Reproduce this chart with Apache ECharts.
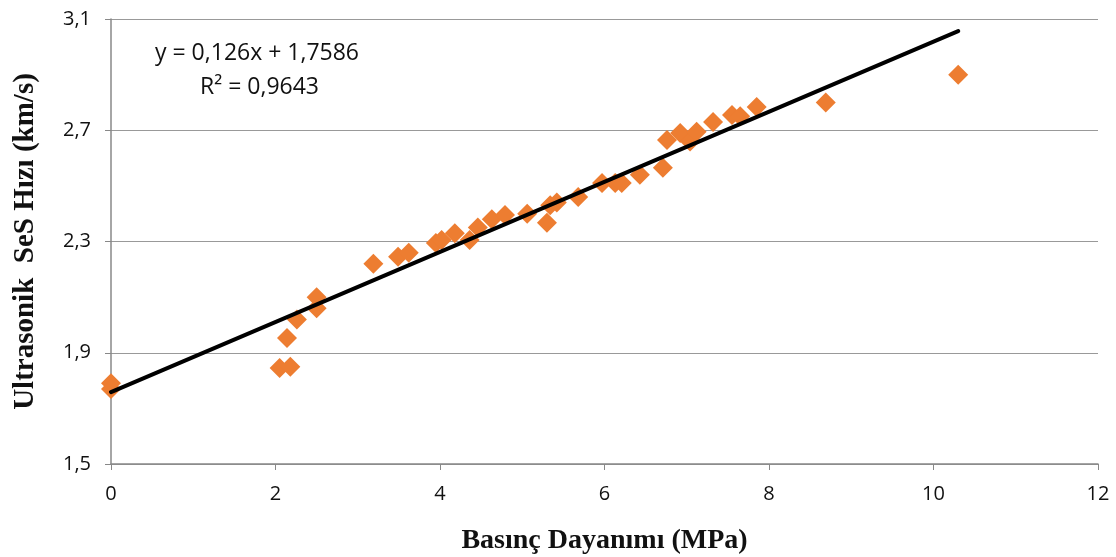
<!DOCTYPE html>
<html>
<head>
<meta charset="utf-8">
<script src="https://cdn.jsdelivr.net/npm/echarts@6/dist/echarts.min.js"></script>
<style>
  html, body { margin: 0; padding: 0; background: #fff; }
  #main { width: 1116px; height: 557px; }
</style>
</head>
<body>
<div id="main"></div>
<script>
// ölçüm noktaları: basınç dayanımı (MPa) ve ses hızı (km/s)
const dayanim = [0, 0, 2.05, 2.18, 2.14, 2.26, 2.5, 2.5, 3.19, 3.49, 3.62, 3.95, 4.02, 4.18, 4.36, 4.46,
  4.63, 4.79, 5.06, 5.3, 5.34, 5.42, 5.68, 5.97, 6.13, 6.21, 6.43, 6.71, 6.76, 6.92, 7.04, 7.12,
  7.32, 7.55, 7.65, 7.85, 8.69, 10.3];
const sesHizi = [1.79, 1.77, 1.845, 1.85, 1.953, 2.02, 2.06, 2.10, 2.22, 2.245, 2.26, 2.295, 2.305, 2.33, 2.305, 2.35,
  2.38, 2.395, 2.40, 2.367, 2.43, 2.44, 2.46, 2.51, 2.51, 2.51, 2.54, 2.565, 2.665, 2.69, 2.66, 2.695,
  2.73, 2.755, 2.75, 2.784, 2.80, 2.90];
// doğrusal eğilim çizgisi
const egim = 0.126;
const kesisim = 1.7586;
const trendX = [0, 10.3];

const points = dayanim.map((x, i) => [x, sesHizi[i]]);
const trend = trendX.map(x => [x, egim * x + kesisim]);

const comma = v => String(v).replace('.', ',');

const chart = echarts.init(document.getElementById('main'));
chart.setOption({
  animation: false,
  grid: { left: 111, right: 18, top: 19, bottom: 93, outerBoundsMode: 'none' },
  xAxis: {
    type: 'value',
    min: 0, max: 12, interval: 2,
    name: 'Basınç Dayanımı (MPa)',
    nameLocation: 'middle',
    nameGap: 63,
    nameTextStyle: { fontFamily: 'Liberation Serif', fontWeight: 'bold', fontSize: 28, color: '#111' },
    axisLine: { lineStyle: { color: '#888', width: 1.5 } },
    axisTick: { show: true, length: 6, lineStyle: { color: '#888' } },
    axisLabel: { fontFamily: 'Open Sans', fontSize: 20, color: '#111', margin: 20 },
    splitLine: { show: false }
  },
  yAxis: {
    type: 'value',
    min: 1.5, max: 3.1, interval: 0.4,
    name: 'Ultrasonik  SeS Hızı (km/s)',
    nameLocation: 'middle',
    nameGap: 71,
    nameTextStyle: { fontFamily: 'Liberation Serif', fontWeight: 'bold', fontSize: 29, color: '#111' },
    axisLine: { show: true, lineStyle: { color: '#888', width: 1.5 } },
    axisTick: { show: true, length: 6, lineStyle: { color: '#888' } },
    axisLabel: {
      fontFamily: 'Open Sans', fontSize: 20, color: '#111', margin: 20,
      formatter: v => comma(v.toFixed(1))
    },
    splitLine: { show: true, lineStyle: { color: '#999', width: 1.2 } }
  },
  series: [
    {
      type: 'scatter',
      data: points,
      symbol: 'diamond',
      symbolSize: 20,
      itemStyle: { color: '#ED7D31', opacity: 1 },
      z: 2
    },
    {
      type: 'line',
      data: trend,
      symbol: 'none',
      lineStyle: { color: '#000', width: 4, cap: 'round' },
      z: 3
    }
  ],
  graphic: [
    {
      type: 'text', left: 155, top: 42,
      style: { text: 'y = 0,126x + 1,7586', font: '23px "Open Sans"', fill: '#111' }
    },
    {
      type: 'text', left: 200, top: 76,
      style: { text: 'R² = 0,9643', font: '23px "Open Sans"', fill: '#111' }
    }
  ]
});
</script>
</body>
</html>
